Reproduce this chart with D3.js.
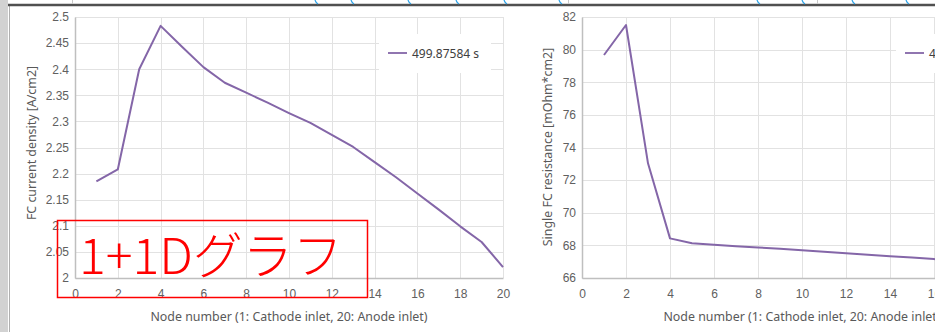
<!DOCTYPE html>
<html lang="en">
<head>
<meta charset="utf-8">
<script src="https://cdn.jsdelivr.net/npm/d3@7"></script>
<style>
  body { margin: 0; background: #fff; }
  svg { display: block; font-family: "Segoe UI", "Noto Sans", sans-serif; }
  .grid line { stroke: #e2e2e2; stroke-width: 1px; }
  .tick text { fill: #606060; font-size: 12px; }
  .title { fill: #595959; font-size: 12.4px; }
</style>
</head>
<body>
<div id="chart"></div>
<script>
// node numbers along the cell
var nodes = [1, 2, 3, 4, 5, 6, 7, 8, 9, 10, 11, 12, 13, 14, 15, 16, 17, 18, 19, 20];

// FC current density [A/cm2]
var currentDensity = [2.185, 2.208, 2.400, 2.483, 2.443, 2.404, 2.374, 2.355, 2.336, 2.316,
                      2.297, 2.274, 2.251, 2.222, 2.193, 2.162, 2.131, 2.099, 2.069, 2.021];

// Single FC resistance [mOhm*cm2]
var resistance = [79.67, 81.51, 73.03, 68.43, 68.13, 68.04, 67.95, 67.87, 67.79, 67.70,
                  67.61, 67.52, 67.43, 67.34, 67.25, 67.16, 67.07, 66.99, 66.90, 66.81];

var xTicks = [0, 2, 4, 6, 8, 10, 12, 14, 16, 18, 20];
var densityTicks = [2, 2.05, 2.1, 2.15, 2.2, 2.25, 2.3, 2.35, 2.4, 2.45, 2.5];
var resistanceTicks = [66, 68, 70, 72, 74, 76, 78, 80, 82];

var seriesName = "499.87584 s";
var xTitle = "Node number (1: Cathode inlet, 20: Anode inlet)";
var lineColor = "#8466a8";

var W = 935, H = 332;
var svg = d3.select("#chart").append("svg")
    .attr("width", W)
    .attr("height", H);

// window frame bits
svg.append("rect").attr("x", 0).attr("y", 0).attr("width", 8).attr("height", H).attr("fill", "#d2d2d2");
svg.append("line").attr("x1", 9.5).attr("x2", 9.5).attr("y1", 6).attr("y2", H)
    .attr("stroke", "#b0b0b0");
svg.append("line").attr("x1", 8).attr("x2", W).attr("y1", 5).attr("y2", 5)
    .attr("stroke", "#505050").attr("stroke-width", 2.5);

// blue arcs peeking in from the panel above
var arcsX = [316, 352, 409, 457, 505, 560, 758, 803, 853, 907];
arcsX.forEach(function(x) {
    svg.append("path")
        .attr("d", "M" + (x - 1) + ",0 Q" + x + ",3 " + (x + 2) + ",4")
        .attr("fill", "none").attr("stroke", "#2aa0e6").attr("stroke-width", 1.2);
});
[72, 568, 817].forEach(function(x) {
    svg.append("line").attr("x1", x + 0.5).attr("x2", x + 0.5).attr("y1", 0).attr("y2", 4)
        .attr("stroke", "#c8c8c8");
});

function drawChart(opt) {
    var g = svg.append("g");

    var x = d3.scaleLinear().domain([0, 20]).range([opt.left, opt.right]);
    var y = d3.scaleLinear().domain(opt.yDomain).range([278, 17]);

    // grid
    g.append("g").attr("class", "grid")
        .selectAll("line.h").data(opt.yTicks).enter().append("line")
        .attr("x1", opt.left).attr("x2", opt.right)
        .attr("y1", function(d) { return Math.round(y(d)) + 0.5; })
        .attr("y2", function(d) { return Math.round(y(d)) + 0.5; });
    g.append("g").attr("class", "grid")
        .selectAll("line.v").data(xTicks).enter().append("line")
        .attr("y1", 17).attr("y2", 278)
        .attr("x1", function(d) { return Math.round(x(d)) + 0.5; })
        .attr("x2", function(d) { return Math.round(x(d)) + 0.5; });

    // axes
    var xAxis = g.append("g")
        .attr("transform", "translate(0,278)")
        .call(d3.axisBottom(x).tickValues(xTicks).tickSize(0).tickPadding(11));
    xAxis.select(".domain").attr("stroke", "#bfbfbf").attr("stroke-width", 1.5);

    var yAxis = g.append("g")
        .attr("transform", "translate(" + opt.left + ",0)")
        .call(d3.axisLeft(y).tickValues(opt.yTicks).tickSize(0).tickPadding(6)
              .tickFormat(d3.format("~g")));
    yAxis.select(".domain").attr("stroke", "#bfbfbf").attr("stroke-width", 1.5);

    // legend box hides grid behind it
    g.append("rect")
        .attr("x", opt.legendX).attr("y", 34)
        .attr("width", 112).attr("height", 39)
        .attr("fill", "#fff");
    g.append("line")
        .attr("x1", opt.legendX + 9).attr("x2", opt.legendX + 28)
        .attr("y1", 53).attr("y2", 53)
        .attr("stroke", lineColor).attr("stroke-width", 1.8);
    g.append("text")
        .attr("x", opt.legendX + 33).attr("y", 57.5)
        .attr("fill", "#404040").style("font-size", "12px")
        .text(seriesName);

    // series line
    var line = d3.line()
        .x(function(d, i) { return x(nodes[i]); })
        .y(function(d) { return y(d); });
    g.append("path")
        .datum(opt.values)
        .attr("fill", "none")
        .attr("stroke", lineColor)
        .attr("stroke-width", 2)
        .attr("stroke-linejoin", "round")
        .attr("d", line);

    // titles
    g.append("text").attr("class", "title")
        .attr("text-anchor", "middle")
        .attr("x", (opt.left + opt.right) / 2).attr("y", 321)
        .text(xTitle);
    g.append("text").attr("class", "title")
        .attr("text-anchor", "middle")
        .attr("transform", "translate(" + opt.yTitleX + "," + opt.yTitleY + ") rotate(-90)")
        .text(opt.yTitle);
}

drawChart({
    left: 75, right: 503,
    yDomain: [2, 2.5], yTicks: densityTicks, values: currentDensity,
    yTitle: "FC current density [A/cm2]", yTitleX: 36, yTitleY: 143,
    legendX: 379
});

drawChart({
    left: 582, right: 1022,
    yDomain: [66, 82], yTicks: resistanceTicks, values: resistance,
    yTitle: "Single FC resistance [mOhm*cm2]", yTitleX: 552, yTitleY: 147,
    legendX: 896
});

// red annotation box
svg.append("rect")
    .attr("x", 57.5).attr("y", 220.5)
    .attr("width", 310).attr("height", 77)
    .attr("fill", "none").attr("stroke", "#ff0000").attr("stroke-width", 1.5);
svg.append("text")
    .attr("x", 79).attr("y", 274)
    .attr("fill", "#ff0000")
    .style("font-family", "'Noto Sans CJK JP', sans-serif")
    .style("font-weight", 200)
    .style("font-size", "50px")
    .text("1+1Dグラフ");
</script>
</body>
</html>
